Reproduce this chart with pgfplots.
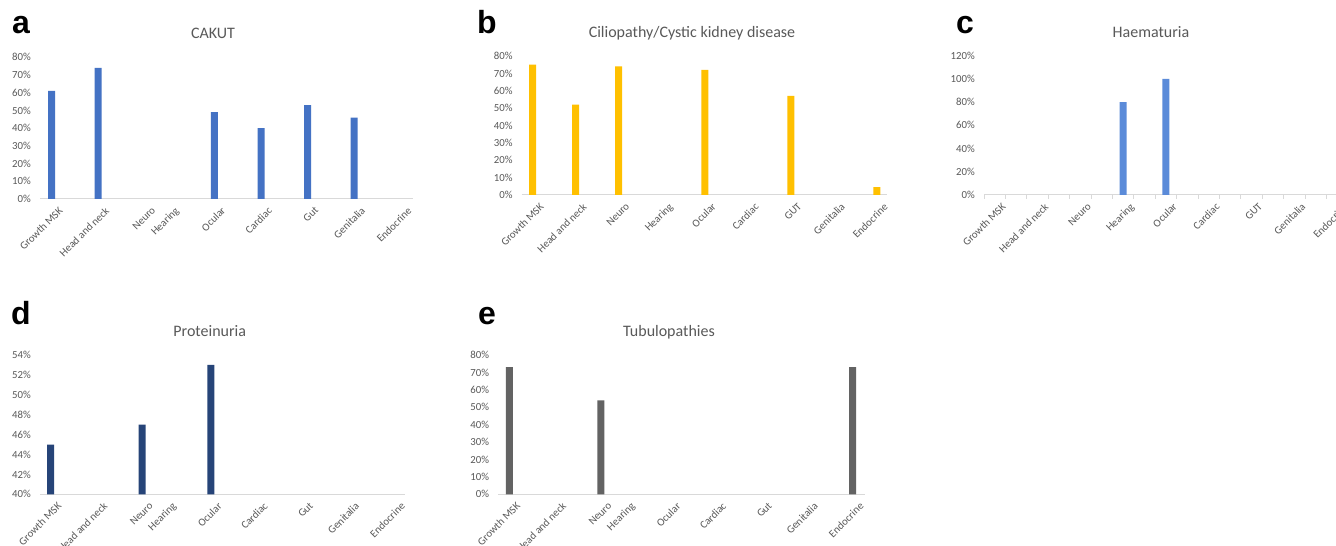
\documentclass[border=0pt]{standalone}
\usepackage{fontspec}
\setmainfont{Carlito}
\newfontfamily\arialfont{Liberation Sans}
\usepackage{pgfplots}
\pgfplotsset{compat=1.18}
\definecolor{labgray}{HTML}{595959}
\definecolor{axgray}{HTML}{D9D9D9}
\definecolor{cA}{HTML}{4472C4}
\definecolor{cB}{HTML}{FFC000}
\definecolor{cC}{HTML}{5B8BD9}
\definecolor{cD}{HTML}{264478}
\definecolor{cE}{HTML}{636363}
\pgfplotsset{
  panel/.style={
    scale only axis, anchor=south west,
    ybar, bar width=7pt,
    axis x line*=bottom, axis y line*=left,
    y axis line style={draw=none},
    x axis line style={draw=axgray, line width=1pt, -},
    major tick length=0pt,
    tick label style={font=\fontsize{10.8}{12}\selectfont, text=labgray},
    xticklabel style={rotate=45, anchor=north east, inner sep=1pt, yshift=-8.5pt, xshift=0.5pt},
    yticklabel style={anchor=east, inner sep=0pt, xshift=-9pt},
    yticklabel={\pgfmathprintnumber{\tick}\%},
    /pgf/number format/assume math mode=true,
    enlargelimits=false,
  },
  cats/.style={
    xtick={0,1,2,2.5,3.5,4.5,5.5,6.5,7.5},
    xticklabels={Growth MSK,Head and neck,Neuro,Hearing,Ocular,Cardiac,Gut,Genitalia,Endocrine},
  },
}
\newcommand{\ptitle}[3]{\node[anchor=base, inner sep=0pt, font=\fontsize{16}{19}\selectfont, text=labgray] at (#1pt,#2pt) {#3};}
\newcommand{\pletter}[3]{\node[anchor=base west, inner sep=0pt, font=\arialfont\bfseries\fontsize{32}{36}\selectfont] at (#1pt,#2pt) {#3};}
\begin{document}
\begin{tikzpicture}
\useasboundingbox (0,0) rectangle (1336pt,546pt);
\fill[white] (0,0) rectangle (1336pt,546pt);

% ---- a: CAKUT
\begin{axis}[panel, cats, at={(40pt,347pt)}, width=372.7pt, height=141.7pt,
  xmin=-0.25, xmax=7.76, ymin=0, ymax=80, ytick={0,10,...,80}]
\addplot[fill=cA, draw=none] coordinates {(0,61) (1,74) (3.5,49) (4.5,40) (5.5,53) (6.5,46)};
\end{axis}
\pletter{12}{512.7}{a}
\ptitle{213}{507.7}{CAKUT}

% ---- b: Ciliopathy
\begin{axis}[panel, at={(521.7pt,351pt)}, width=365pt, height=139pt,
  xmin=-0.256, xmax=8.23, ymin=0, ymax=80, ytick={0,10,...,80},
  xtick={0,...,8},
  xticklabels={Growth MSK,Head and neck,Neuro,Hearing,Ocular,Cardiac,GUT,Genitalia,Endocrine}]
\addplot[fill=cB, draw=none] coordinates {(0,75) (1,52) (2,74) (4,72) (6,57) (8,4.5)};
\end{axis}
\pletter{477}{512.7}{b}
\ptitle{692}{508.3}{Ciliopathy/Cystic kidney disease}

% ---- c: Haematuria
\begin{axis}[panel, at={(984pt,351pt)}, width=363.8pt, height=139.3pt,
  xmin=-0.25, xmax=8.25, ymin=0, ymax=120, ytick={0,20,...,120},
  xtick={0,...,8},
  xticklabels={Growth MSK,Head and neck,Neuro,Hearing,Ocular,Cardiac,GUT,Genitalia,Endocrine},
  minor xtick={-0.25,0.25,...,8.25},
  minor tick length=4pt, tick align=outside,
  minor x tick style={axgray, line width=0.8pt}]
\addplot[fill=cC, draw=none] coordinates {(3,80) (4,100)};
\end{axis}
\pletter{956}{512.7}{c}
\ptitle{1151}{508.7}{Haematuria}

% ---- d: Proteinuria
\begin{axis}[panel, cats, at={(40pt,51.7pt)}, width=365pt, height=139.3pt,
  xmin=-0.23, xmax=7.74, ymin=40, ymax=54, ytick={40,42,...,54}]
\addplot[fill=cD, draw=none] coordinates {(0,45) (2,47) (3.5,53)};
\end{axis}
\pletter{11}{221}{d}
\ptitle{209.7}{209.3}{Proteinuria}

% ---- e: Tubulopathies
\begin{axis}[panel, cats, at={(498.3pt,51.7pt)}, width=366.7pt, height=139.3pt,
  xmin=-0.24, xmax=7.77, ymin=0, ymax=80, ytick={0,10,...,80}]
\addplot[fill=cE, draw=none] coordinates {(0,73) (2,54) (7.5,73)};
\end{axis}
\pletter{478}{221}{e}
\ptitle{669}{209.3}{Tubulopathies}
\end{tikzpicture}
\end{document}
